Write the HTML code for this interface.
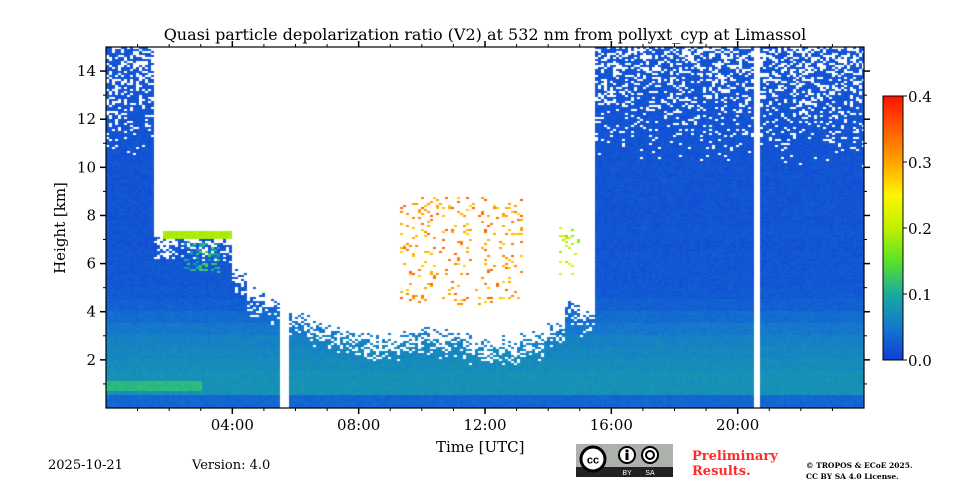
<!DOCTYPE html>
<html><head><meta charset="utf-8">
<style>
body{margin:0;background:#fff;width:960px;height:480px;overflow:hidden;position:relative;font-family:"DejaVu Serif","Liberation Serif",serif;}
.t{position:absolute;white-space:nowrap;color:#000;}
</style></head>
<body>
<div class="t" style="left:0;width:970px;text-align:center;top:25px;font-size:16px;">Quasi particle depolarization ratio (V2) at 532 nm from pollyxt_cyp at Limassol</div>
<canvas id="hm" width="758" height="361" style="position:absolute;left:106px;top:47px;"></canvas>
<svg id="ax" width="960" height="480" style="position:absolute;left:0;top:0;"></svg>
<div class="t" style="left:60px;top:228px;font-size:15px;transform:translate(-50%,-50%) rotate(-90deg);">Height [km]</div>
<div class="t" style="left:436px;top:438px;font-size:15px;">Time [UTC]</div>
<div class="t" style="left:48px;top:458px;font-size:13px;">2025-10-21</div>
<div class="t" style="left:192px;top:458px;font-size:13px;">Version: 4.0</div>
<svg width="97" height="33" style="position:absolute;left:576px;top:444px;">
<rect width="97" height="33" fill="#aab2ab"/><rect y="23" width="97" height="10" fill="#222"/>
<circle cx="17" cy="15" r="12" fill="#fff" stroke="#000" stroke-width="3"/>
<text x="17" y="19.5" font-size="11" font-weight="bold" text-anchor="middle" font-family="Liberation Sans,sans-serif">cc</text>
<circle cx="51" cy="11" r="8" fill="#fff" stroke="#000" stroke-width="2"/><circle cx="51" cy="7" r="1.6"/><rect x="49.5" y="9" width="3" height="7"/>
<circle cx="74" cy="11" r="8" fill="#fff" stroke="#000" stroke-width="2"/><circle cx="74" cy="11" r="4" fill="none" stroke="#000" stroke-width="2"/>
<text x="51" y="31" font-size="7" fill="#fff" text-anchor="middle" font-family="Liberation Sans,sans-serif">BY</text>
<text x="74" y="31" font-size="7" fill="#fff" text-anchor="middle" font-family="Liberation Sans,sans-serif">SA</text>
</svg>
<div class="t" style="left:692px;top:449px;font-size:13px;font-weight:bold;color:#ff2a2a;line-height:15px;">Preliminary<br>Results.</div>
<div class="t" style="left:806px;top:460px;font-size:7.5px;font-weight:bold;line-height:11px;">© TROPOS &amp; ECoE 2025.<br>CC BY SA 4.0 License.</div>
<script>
// ---- data ----
const topKm = [15,15,15,7.3,7.3,7.3,7.3,7.3,5.8,5.0,4.6,4.3,4.1,3.8,3.5,3.3,3.2,3.1,3.2,3.3,3.4,3.3,3.2,3.0,2.9,3.0,3.1,3.2,3.6,4.5,4.1,15,15,15,15,15,15,15,15,15,15,15,15,15,15,15,15,15];
const gapStart = [5.55,20.55];
const gapEnd = [5.75,20.75];
const depolProfile = [0.035,0.075,0.075,0.07,0.065,0.06,0.05,0.04,0.03,0.024,0.022,0.022,0.022,0.02,0.022,0.02,0.02,0.02,0.02,0.02,0.02,0.02,0.02,0.02,0.02,0.02,0.02,0.02,0.02,0.02];
const layerT0 = [0,1.8,2.5,9.3,14.3];
const layerT1 = [3,4.0,3.6,13.2,15.0];
const layerH0 = [0.7,7.0,5.6,4.3,5.5];
const layerH1 = [1.1,7.35,6.9,8.8,7.5];
const layerVal = [0.115,0.19,0.1,0.31,0.2];
const layerDensity = [1,1,0.35,0.1,0.1];
const xTicks = [4,8,12,16,20];
const xTickLabels = ["04:00","08:00","12:00","16:00","20:00"];
const yTicks = [2,4,6,8,10,12,14];
const cbTicks = [0,0.1,0.2,0.3,0.4];

// ---- scales ----
const PX=106,PY=47,PW=758,PH=361;
const xs=t=>PX+t/24*PW;
const ys=h=>PY+PH-h/15*PH;
const cbY=v=>360-v/0.4*264;

const stops=[[0,[16,60,216]],[0.05,[20,120,205]],[0.1,[25,170,160]],[0.15,[90,225,40]],[0.2,[190,240,0]],[0.25,[255,245,0]],[0.3,[255,165,0]],[0.4,[255,20,0]]];
function cmap(v){v=Math.max(0,Math.min(0.4,v));for(let i=1;i<stops.length;i++){if(v<=stops[i][0]){const a=stops[i-1],b=stops[i],f=(v-a[0])/(b[0]-a[0]);return a[1].map((c,k)=>Math.round(c+(b[1][k]-c)*f));}}return stops[stops.length-1][1];}
function hash(a,b){let h=(a*374761393+b*668265263)|0;h=(h^(h>>>13))*1274126177|0;return ((h^(h>>>16))>>>0)/4294967296;}

// ---- heatmap ----
const cv=document.getElementById('hm'),ctx=cv.getContext('2d');
const CW=3,CH=2;
for(let cx=0;cx<PW;cx+=CW){
  const t=(cx+CW/2)/PW*24;
  let gap=false;for(let g=0;g<gapStart.length;g++) if(t>=gapStart[g]&&t<=gapEnd[g]) gap=true;
  if(gap) continue;
  const top=topKm[Math.min(47,Math.floor(t/0.5))];
  for(let cy=0;cy<PH;cy+=CH){
    const h=(PH-cy-CH/2)/PH*15;
    let v=depolProfile[Math.min(29,Math.floor(h/0.5))];
    let present=false;
    const r=hash(cx,cy);
    if(top>=15){const d=h<10?1:1-(h-10)/5*0.45;present=r<d;}
    else{const fr=1.3;present=h<top-fr?true:(h<top? r<(top-h)/fr*0.9+0.1 : false);}
    for(let k=0;k<layerVal.length;k++){
      if(t>=layerT0[k]&&t<=layerT1[k]&&h>=layerH0[k]&&h<=layerH1[k]){
        if(layerDensity[k]>=1){v=layerVal[k];present=true;}
        else if(hash(cy+7,cx+13)<layerDensity[k]){v=layerVal[k]+(hash(cx,cy+1)-0.5)*0.08;present=true;}
      }
    }
    if(!present) continue;
    v+= (hash(cx+3,cy+5)-0.5)*0.012;
    const c=cmap(v);
    ctx.fillStyle=`rgb(${c[0]},${c[1]},${c[2]})`;
    ctx.fillRect(cx,cy,CW,CH);
  }
}

// ---- axes ----
const NS='http://www.w3.org/2000/svg',svg=document.getElementById('ax');
function mk(tag,attrs,txt){const e=document.createElementNS(NS,tag);for(const k in attrs)e.setAttribute(k,attrs[k]);if(txt!==undefined)e.textContent=txt;svg.appendChild(e);return e;}
let e=mk('rect',{x:PX,y:PY,width:PW,height:PH,fill:'none',stroke:'#000','stroke-width':1.2});


for(let hh=1;hh<24;hh++){
  const maj=xTicks.includes(hh),L=maj?6:3;
  e=mk('line',{x1:xs(hh),x2:xs(hh),y1:PY+PH,y2:PY+PH+L,stroke:'#000','stroke-width':maj?1.5:1});
  
  
  e=mk('line',{x1:xs(hh),x2:xs(hh),y1:PY,y2:PY-L,stroke:'#000','stroke-width':maj?1.5:1});
  
  
}
xTicks.forEach((t,i)=>{
  e=mk('text',{x:xs(t),y:430,'font-size':15,'text-anchor':'middle','font-family':'DejaVu Serif,Liberation Serif,serif'},xTickLabels[i]);
  
  
});
yTicks.forEach(h=>{
  e=mk('line',{x1:PX-6,x2:PX,y1:ys(h),y2:ys(h),stroke:'#000','stroke-width':1.5});
  
  
  e=mk('line',{x1:PX+PW,x2:PX+PW+6,y1:ys(h),y2:ys(h),stroke:'#000','stroke-width':1.5});
  
  
  e=mk('text',{x:PX-10,y:ys(h)+5,'font-size':15,'text-anchor':'end','font-family':'DejaVu Serif,Liberation Serif,serif'},String(h));
  
  
});
for(let h=1;h<15;h+=2){
  e=mk('line',{x1:PX-3,x2:PX,y1:ys(h),y2:ys(h),stroke:'#000','stroke-width':1});
  
  
  e=mk('line',{x1:PX+PW,x2:PX+PW+3,y1:ys(h),y2:ys(h),stroke:'#000','stroke-width':1});
  
  
}
// colorbar
for(let y=96;y<360;y++){
  const c=cmap((360-y)/264*0.4);
  e=mk('rect',{x:883,y:y,width:20,height:1.2,fill:`rgb(${c[0]},${c[1]},${c[2]})`});
  
  
}
e=mk('rect',{x:883,y:96,width:20,height:264,fill:'none',stroke:'#000','stroke-width':1});


cbTicks.forEach(v=>{
  e=mk('line',{x1:903,x2:907,y1:cbY(v),y2:cbY(v),stroke:'#000','stroke-width':1});
  
  
  e=mk('text',{x:908,y:cbY(v)+6,'font-size':15,'font-family':'DejaVu Serif,Liberation Serif,serif'},v.toFixed(1));
  
  
});
</script>
</body></html>
